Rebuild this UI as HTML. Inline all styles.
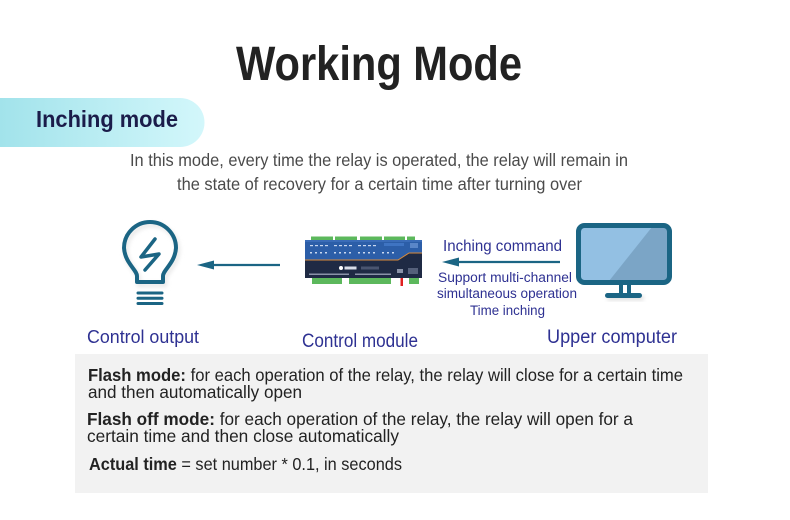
<!DOCTYPE html>
<html>
<head>
<meta charset="utf-8">
<style>
  html, body { margin: 0; padding: 0; background: #ffffff; }
  body { width: 790px; height: 520px; overflow: hidden; }
  svg { display: block; }
  text { font-family: "Liberation Sans", sans-serif; }
</style>
</head>
<body>
<svg width="790" height="520" viewBox="0 0 790 520" xmlns="http://www.w3.org/2000/svg">
  <defs>
    <linearGradient id="pill" x1="0" y1="0" x2="1" y2="0">
      <stop offset="0" stop-color="#a2e3eb"/>
      <stop offset="1" stop-color="#d3f7fb"/>
    </linearGradient>
    <filter id="blur" x="-50%" y="-50%" width="200%" height="200%">
      <feGaussianBlur stdDeviation="2"/>
    </filter>
  </defs>

  <rect x="0" y="0" width="790" height="520" fill="#ffffff"/>

  <!-- Title -->
  <text x="236" y="80" font-size="48" font-weight="bold" fill="#222222" textLength="286" lengthAdjust="spacingAndGlyphs">Working Mode</text>

  <!-- Pill header -->
  <path d="M0,98 H180 A24.5,24.5 0 0 1 180,147 H0 Z" fill="url(#pill)"/>
  <text x="36" y="127" font-size="23" font-weight="bold" fill="#1b1c4a" textLength="142" lengthAdjust="spacingAndGlyphs">Inching mode</text>

  <!-- Description -->
  <text x="130" y="166" font-size="17.5" fill="#4a4a4a" textLength="498" lengthAdjust="spacingAndGlyphs">In this mode, every time the relay is operated, the relay will remain in</text>
  <text x="177" y="190" font-size="17.5" fill="#4a4a4a" textLength="405" lengthAdjust="spacingAndGlyphs">the state of recovery for a certain time after turning over</text>

  <!-- Bulb icon -->
  <g fill="none" stroke="#e6e6e6" stroke-width="4" filter="url(#blur)" transform="translate(2,3)">
    <path d="M137,282 L137,276 C137,270 125,263 124,248 A26,26 0 1 1 176,248 C175,263 163,270 163,276 L163,282 Z"/>
  </g>
  <g fill="none" stroke="#1b6584" stroke-linecap="round" stroke-linejoin="round">
    <path d="M137,282 L137,276 C137,270 125,263 124,248 A26,26 0 1 1 176,248 C175,263 163,270 163,276 L163,282 Z" stroke-width="4"/>
    <polyline points="155,239 141,257 159,254 145,270" stroke-width="3.5"/>
    <line x1="138" y1="293" x2="162" y2="293" stroke-width="3"/>
    <line x1="138" y1="298.3" x2="162" y2="298.3" stroke-width="3"/>
    <line x1="138" y1="303.5" x2="162" y2="303.5" stroke-width="3"/>
  </g>

  <!-- Left arrow -->
  <line x1="210" y1="265" x2="280" y2="265" stroke="#1b6584" stroke-width="2.2"/>
  <polygon points="197,265 214,260.5 214,269.5" fill="#1b6584"/>

  <!-- Device (control module) -->
  <g>
    <!-- top terminals -->
    <rect x="311" y="236.5" width="22" height="4" fill="#5cb85c"/>
    <rect x="335" y="236.5" width="22" height="4" fill="#5cb85c"/>
    <rect x="360" y="236.5" width="22" height="4" fill="#5cb85c"/>
    <rect x="384" y="236.5" width="21" height="4" fill="#5cb85c"/>
    <rect x="407" y="236.5" width="8" height="4" fill="#5cb85c"/>
    <!-- body -->
    <rect x="305" y="240" width="117" height="20" fill="#2c5ea8"/>
    <rect x="305" y="240" width="117" height="2" fill="#3a6cb8"/>
    <path d="M305,260 H398 L409,253 H422 V278 H305 Z" fill="#1f2a44"/>
    <path d="M305,260 H398 L409,253 H422" fill="none" stroke="#d98a3a" stroke-width="1"/>
    <!-- light marks rows -->
    <g fill="#c9d8f0">
      <rect x="310" y="245" width="3" height="1.2"/><rect x="315" y="245" width="3" height="1.2"/><rect x="320" y="245" width="3" height="1.2"/><rect x="325" y="245" width="3" height="1.2"/>
      <rect x="334" y="245" width="3" height="1.2"/><rect x="339" y="245" width="3" height="1.2"/><rect x="344" y="245" width="3" height="1.2"/><rect x="349" y="245" width="3" height="1.2"/>
      <rect x="358" y="245" width="3" height="1.2"/><rect x="363" y="245" width="3" height="1.2"/><rect x="368" y="245" width="3" height="1.2"/><rect x="373" y="245" width="3" height="1.2"/>
      <rect x="310" y="252" width="2" height="1.5"/><rect x="315" y="252" width="2" height="1.5"/><rect x="320" y="252" width="2" height="1.5"/><rect x="325" y="252" width="2" height="1.5"/>
      <rect x="334" y="252" width="2" height="1.5"/><rect x="339" y="252" width="2" height="1.5"/><rect x="344" y="252" width="2" height="1.5"/><rect x="349" y="252" width="2" height="1.5"/>
      <rect x="358" y="252" width="2" height="1.5"/><rect x="363" y="252" width="2" height="1.5"/><rect x="368" y="252" width="2" height="1.5"/><rect x="373" y="252" width="2" height="1.5"/>
      <rect x="382" y="252" width="2" height="1.5"/><rect x="387" y="252" width="2" height="1.5"/><rect x="392" y="252" width="2" height="1.5"/>
    </g>
    <rect x="384" y="243" width="20" height="3" fill="#3f74c2"/>
    <rect x="410" y="243" width="8" height="5" fill="#5a86c8"/>
    <!-- logo & labels -->
    <circle cx="341" cy="268" r="2" fill="#ffffff"/>
    <rect x="344.5" y="266.5" width="12" height="3" fill="#d8dde8"/>
    <rect x="361" y="266.5" width="18" height="3" fill="#4a5570"/>
    <rect x="309" y="273.5" width="40" height="1.5" fill="#8a93a8"/>
    <rect x="355" y="273.5" width="36" height="1.5" fill="#8a93a8"/>
    <rect x="397" y="269" width="6" height="4" fill="#8a93a8"/>
    <rect x="408" y="268" width="10" height="6" fill="#55607a"/>
    <!-- bottom terminals -->
    <rect x="312" y="278" width="30" height="6" fill="#5cb85c"/>
    <rect x="349" y="278" width="42" height="6" fill="#5cb85c"/>
    <rect x="409" y="278" width="10" height="6" fill="#5cb85c"/>
    <rect x="400.5" y="278" width="2.5" height="8" fill="#e02020"/>
  </g>

  <!-- Right arrow + labels -->
  <text x="443" y="251" font-size="15.5" fill="#2e3192" textLength="119" lengthAdjust="spacingAndGlyphs">Inching command</text>
  <line x1="456" y1="262" x2="560" y2="262" stroke="#1b6584" stroke-width="2.2"/>
  <polygon points="442,262 459,257.5 459,266.5" fill="#1b6584"/>
  <text x="438" y="282" font-size="13.5" fill="#2e3192" textLength="134" lengthAdjust="spacingAndGlyphs">Support multi-channel</text>
  <text x="437" y="298" font-size="13.5" fill="#2e3192" textLength="140" lengthAdjust="spacingAndGlyphs">simultaneous operation</text>
  <text x="470" y="315" font-size="13.5" fill="#2e3192" textLength="75" lengthAdjust="spacingAndGlyphs">Time inching</text>

  <!-- Monitor -->
  <rect x="607" y="296" width="37" height="4" rx="2" fill="#d8d8d8" filter="url(#blur)"/>
  <rect x="580" y="227" width="88" height="54" fill="#93c0e3"/>
  <polygon points="652,227 668,227 668,281 609,281" fill="#7ba5c6"/>
  <rect x="578.5" y="225.5" width="91" height="57" rx="6" fill="none" stroke="#1b6584" stroke-width="5"/>
  <rect x="619" y="284" width="4" height="10" fill="#1b6584"/>
  <rect x="627" y="284" width="4" height="10" fill="#1b6584"/>
  <rect x="605" y="293" width="37" height="5" rx="2.5" fill="#1b6584"/>

  <!-- Node labels -->
  <text x="87" y="343" font-size="18" fill="#2e3192" textLength="112" lengthAdjust="spacingAndGlyphs">Control output</text>
  <text x="302" y="347" font-size="19" fill="#2e3192" textLength="116" lengthAdjust="spacingAndGlyphs">Control module</text>
  <text x="547" y="343" font-size="19.5" fill="#2e3192" textLength="130" lengthAdjust="spacingAndGlyphs">Upper computer</text>

  <!-- Bottom info box -->
  <rect x="75" y="354" width="633" height="139" fill="#f2f2f2"/>
  <text x="88" y="381" font-size="17.5" fill="#222222" textLength="595" lengthAdjust="spacingAndGlyphs"><tspan font-weight="bold">Flash mode:</tspan> for each operation of the relay, the relay will close for a certain time</text>
  <text x="88" y="398" font-size="17.5" fill="#222222" textLength="214" lengthAdjust="spacingAndGlyphs">and then automatically open</text>
  <text x="87" y="425" font-size="17.5" fill="#222222" textLength="546" lengthAdjust="spacingAndGlyphs"><tspan font-weight="bold">Flash off mode:</tspan> for each operation of the relay, the relay will open for a</text>
  <text x="87" y="442" font-size="17.5" fill="#222222" textLength="312" lengthAdjust="spacingAndGlyphs">certain time and then close automatically</text>
  <text x="89" y="470" font-size="17.5" fill="#222222" textLength="313" lengthAdjust="spacingAndGlyphs"><tspan font-weight="bold">Actual time</tspan> = set number * 0.1, in seconds</text>
</svg>
</body>
</html>
